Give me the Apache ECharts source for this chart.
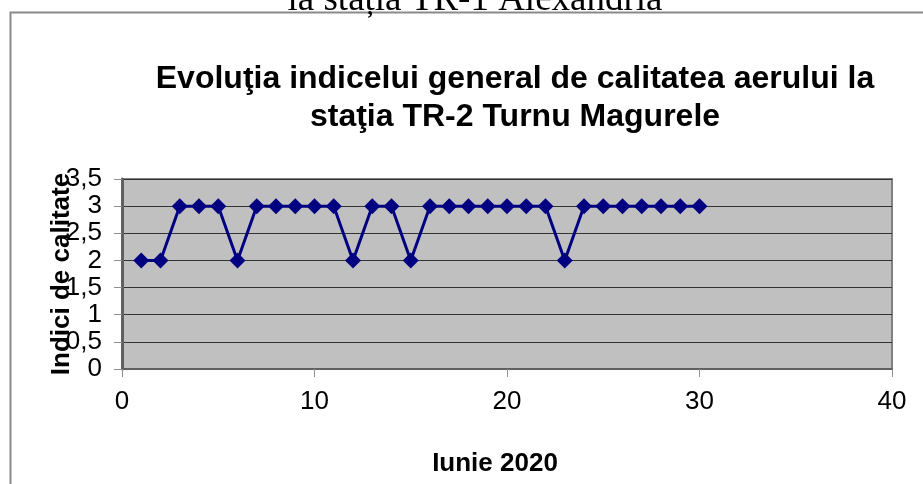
<!DOCTYPE html>
<html>
<head>
<meta charset="utf-8">
<script src="https://cdn.jsdelivr.net/npm/echarts@6/dist/echarts.min.js"></script>
<style>
  html, body { margin: 0; padding: 0; background: #fff; }
  #chart { width: 923px; height: 484px; }
</style>
</head>
<body>
<div id="chart"></div>
<script>
// zile din iunie 2020 si indicii de calitate
const zile = [1,2,3,4,5,6,7,8,9,10,11,12,13,14,15,16,17,18,19,20,21,22,23,24,25,26,27,28,29,30]
const indici = [2,2,3,3,3,2,3,3,3,3,3,2,3,3,2,3,3,3,3,3,3,3,2,3,3,3,3,3,3,3]

const titlu = 'Evoluţia indicelui general de calitatea aerului la\nstaţia TR-2 Turnu Magurele'
const titluSus = 'la stația TR-1 Alexandria'

const chart = echarts.init(document.getElementById('chart'))

chart.setOption({
  animation: false,
  backgroundColor: '#fff',
  title: {
    text: titlu,
    left: 510,
    top: 55,
    textAlign: 'center',
    textStyle: {
      fontFamily: 'Liberation Sans, Arial',
      fontWeight: 'bold',
      fontSize: 32,
      lineHeight: 38,
      color: '#000'
    }
  },
  graphic: [
    {
      type: 'rect',
      shape: { x: 10.5, y: 12.5, width: 930, height: 490 },
      style: { fill: 'none', stroke: '#8a8a8a', lineWidth: 2 },
      z: -1
    },
    {
      // titlul graficului anterior, taiat sus
      type: 'text',
      style: {
        x: 475,
        y: -18,
        text: titluSus,
        textAlign: 'center',
        textVerticalAlign: 'top',
        font: '37px "Liberation Serif", "Times New Roman"',
        fill: '#000'
      }
    }
  ],
  grid: {
    left: 122,
    right: 31,
    top: 179,
    bottom: 115,
    show: true,
    backgroundColor: '#c0c0c0',
    borderColor: '#808080',
    borderWidth: 2
  },
  xAxis: {
    type: 'value',
    min: 0,
    max: 40,
    interval: 10,
    name: 'Iunie 2020',
    nameLocation: 'middle',
    nameGap: 82,
    nameTextStyle: {
      fontFamily: 'Liberation Sans, Arial',
      fontWeight: 'bold',
      fontSize: 26,
      color: '#000',
      padding: [0, 24, 0, 0]
    },
    axisLine: { show: true, lineStyle: { color: '#606060', width: 2 } },
    axisTick: { show: true, length: 8, lineStyle: { color: '#909090' } },
    axisLabel: {
      margin: 20,
      fontFamily: 'Liberation Sans, Arial',
      fontSize: 26,
      color: '#000'
    },
    splitLine: { show: false }
  },
  yAxis: {
    type: 'value',
    min: 0,
    max: 3.5,
    interval: 0.5,
    name: 'Indici de calitate',
    nameLocation: 'middle',
    nameGap: 47,
    nameMoveOverlap: false,
    nameTextStyle: {
      fontFamily: 'Liberation Sans, Arial',
      fontWeight: 'bold',
      fontSize: 26,
      color: '#000'
    },
    axisLine: { show: true, lineStyle: { color: '#606060', width: 3 } },
    axisTick: { show: true, length: 8, lineStyle: { color: '#909090' } },
    axisLabel: {
      margin: 20,
      fontFamily: 'Liberation Sans, Arial',
      fontSize: 26,
      color: '#000',
      formatter: v => String(v).replace('.', ',')
    },
    splitLine: { show: true, lineStyle: { color: '#333', width: 1 } }
  },
  series: [
    {
      type: 'line',
      data: zile.map((z, i) => [z, indici[i]]),
      symbol: 'diamond',
      symbolSize: 16,
      itemStyle: { color: '#000080' },
      lineStyle: { color: '#000080', width: 3 }
    }
  ]
})
</script>
</body>
</html>
